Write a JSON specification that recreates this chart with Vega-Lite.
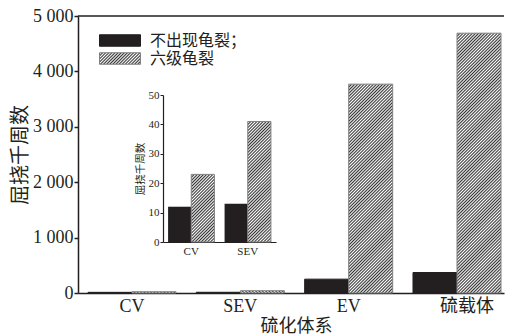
{
  "$schema": "https://vega.github.io/schema/vega-lite/v6.json",
  "width": 426,
  "height": 277,
  "autosize": {"type": "none"},
  "padding": {"left": 78, "top": 16, "right": 2, "bottom": 43},
  "background": "white",
  "config": {
    "view": {"stroke": null},
    "font": "'Liberation Serif', 'Noto Sans CJK SC'",
    "axis": {
      "grid": false,
      "labelFont": "'Liberation Serif', 'Noto Sans CJK SC'",
      "titleFont": "'Liberation Serif', 'Noto Sans CJK SC'",
      "titleFontWeight": "normal",
      "labelColor": "#231f20",
      "titleColor": "#231f20",
      "domainColor": "#231f20",
      "tickColor": "#231f20"
    }
  },
  "params": [
    {
      "name": "hatch",
      "value": [
        {"offset":0,"color":"#333"},{"offset":0.005,"color":"#fff"},{"offset":0.01,"color":"#333"},{"offset":0.015,"color":"#fff"},{"offset":0.02,"color":"#333"},{"offset":0.025,"color":"#fff"},{"offset":0.03,"color":"#333"},{"offset":0.035,"color":"#fff"},{"offset":0.04,"color":"#333"},{"offset":0.045,"color":"#fff"},
        {"offset":0.05,"color":"#333"},{"offset":0.055,"color":"#fff"},{"offset":0.06,"color":"#333"},{"offset":0.065,"color":"#fff"},{"offset":0.07,"color":"#333"},{"offset":0.075,"color":"#fff"},{"offset":0.08,"color":"#333"},{"offset":0.085,"color":"#fff"},{"offset":0.09,"color":"#333"},{"offset":0.095,"color":"#fff"},
        {"offset":0.1,"color":"#333"},{"offset":0.105,"color":"#fff"},{"offset":0.11,"color":"#333"},{"offset":0.115,"color":"#fff"},{"offset":0.12,"color":"#333"},{"offset":0.125,"color":"#fff"},{"offset":0.13,"color":"#333"},{"offset":0.135,"color":"#fff"},{"offset":0.14,"color":"#333"},{"offset":0.145,"color":"#fff"},
        {"offset":0.15,"color":"#333"},{"offset":0.155,"color":"#fff"},{"offset":0.16,"color":"#333"},{"offset":0.165,"color":"#fff"},{"offset":0.17,"color":"#333"},{"offset":0.175,"color":"#fff"},{"offset":0.18,"color":"#333"},{"offset":0.185,"color":"#fff"},{"offset":0.19,"color":"#333"},{"offset":0.195,"color":"#fff"},
        {"offset":0.2,"color":"#333"},{"offset":0.205,"color":"#fff"},{"offset":0.21,"color":"#333"},{"offset":0.215,"color":"#fff"},{"offset":0.22,"color":"#333"},{"offset":0.225,"color":"#fff"},{"offset":0.23,"color":"#333"},{"offset":0.235,"color":"#fff"},{"offset":0.24,"color":"#333"},{"offset":0.245,"color":"#fff"},
        {"offset":0.25,"color":"#333"},{"offset":0.255,"color":"#fff"},{"offset":0.26,"color":"#333"},{"offset":0.265,"color":"#fff"},{"offset":0.27,"color":"#333"},{"offset":0.275,"color":"#fff"},{"offset":0.28,"color":"#333"},{"offset":0.285,"color":"#fff"},{"offset":0.29,"color":"#333"},{"offset":0.295,"color":"#fff"},
        {"offset":0.3,"color":"#333"},{"offset":0.305,"color":"#fff"},{"offset":0.31,"color":"#333"},{"offset":0.315,"color":"#fff"},{"offset":0.32,"color":"#333"},{"offset":0.325,"color":"#fff"},{"offset":0.33,"color":"#333"},{"offset":0.335,"color":"#fff"},{"offset":0.34,"color":"#333"},{"offset":0.345,"color":"#fff"},
        {"offset":0.35,"color":"#333"},{"offset":0.355,"color":"#fff"},{"offset":0.36,"color":"#333"},{"offset":0.365,"color":"#fff"},{"offset":0.37,"color":"#333"},{"offset":0.375,"color":"#fff"},{"offset":0.38,"color":"#333"},{"offset":0.385,"color":"#fff"},{"offset":0.39,"color":"#333"},{"offset":0.395,"color":"#fff"},
        {"offset":0.4,"color":"#333"},{"offset":0.405,"color":"#fff"},{"offset":0.41,"color":"#333"},{"offset":0.415,"color":"#fff"},{"offset":0.42,"color":"#333"},{"offset":0.425,"color":"#fff"},{"offset":0.43,"color":"#333"},{"offset":0.435,"color":"#fff"},{"offset":0.44,"color":"#333"},{"offset":0.445,"color":"#fff"},
        {"offset":0.45,"color":"#333"},{"offset":0.455,"color":"#fff"},{"offset":0.46,"color":"#333"},{"offset":0.465,"color":"#fff"},{"offset":0.47,"color":"#333"},{"offset":0.475,"color":"#fff"},{"offset":0.48,"color":"#333"},{"offset":0.485,"color":"#fff"},{"offset":0.49,"color":"#333"},{"offset":0.495,"color":"#fff"},
        {"offset":0.5,"color":"#333"},{"offset":0.505,"color":"#fff"},{"offset":0.51,"color":"#333"},{"offset":0.515,"color":"#fff"},{"offset":0.52,"color":"#333"},{"offset":0.525,"color":"#fff"},{"offset":0.53,"color":"#333"},{"offset":0.535,"color":"#fff"},{"offset":0.54,"color":"#333"},{"offset":0.545,"color":"#fff"},
        {"offset":0.55,"color":"#333"},{"offset":0.555,"color":"#fff"},{"offset":0.56,"color":"#333"},{"offset":0.565,"color":"#fff"},{"offset":0.57,"color":"#333"},{"offset":0.575,"color":"#fff"},{"offset":0.58,"color":"#333"},{"offset":0.585,"color":"#fff"},{"offset":0.59,"color":"#333"},{"offset":0.595,"color":"#fff"},
        {"offset":0.6,"color":"#333"},{"offset":0.605,"color":"#fff"},{"offset":0.61,"color":"#333"},{"offset":0.615,"color":"#fff"},{"offset":0.62,"color":"#333"},{"offset":0.625,"color":"#fff"},{"offset":0.63,"color":"#333"},{"offset":0.635,"color":"#fff"},{"offset":0.64,"color":"#333"},{"offset":0.645,"color":"#fff"},
        {"offset":0.65,"color":"#333"},{"offset":0.655,"color":"#fff"},{"offset":0.66,"color":"#333"},{"offset":0.665,"color":"#fff"},{"offset":0.67,"color":"#333"},{"offset":0.675,"color":"#fff"},{"offset":0.68,"color":"#333"},{"offset":0.685,"color":"#fff"},{"offset":0.69,"color":"#333"},{"offset":0.695,"color":"#fff"},
        {"offset":0.7,"color":"#333"},{"offset":0.705,"color":"#fff"},{"offset":0.71,"color":"#333"},{"offset":0.715,"color":"#fff"},{"offset":0.72,"color":"#333"},{"offset":0.725,"color":"#fff"},{"offset":0.73,"color":"#333"},{"offset":0.735,"color":"#fff"},{"offset":0.74,"color":"#333"},{"offset":0.745,"color":"#fff"},
        {"offset":0.75,"color":"#333"},{"offset":0.755,"color":"#fff"},{"offset":0.76,"color":"#333"},{"offset":0.765,"color":"#fff"},{"offset":0.77,"color":"#333"},{"offset":0.775,"color":"#fff"},{"offset":0.78,"color":"#333"},{"offset":0.785,"color":"#fff"},{"offset":0.79,"color":"#333"},{"offset":0.795,"color":"#fff"},
        {"offset":0.8,"color":"#333"},{"offset":0.805,"color":"#fff"},{"offset":0.81,"color":"#333"},{"offset":0.815,"color":"#fff"},{"offset":0.82,"color":"#333"},{"offset":0.825,"color":"#fff"},{"offset":0.83,"color":"#333"},{"offset":0.835,"color":"#fff"},{"offset":0.84,"color":"#333"},{"offset":0.845,"color":"#fff"},
        {"offset":0.85,"color":"#333"},{"offset":0.855,"color":"#fff"},{"offset":0.86,"color":"#333"},{"offset":0.865,"color":"#fff"},{"offset":0.87,"color":"#333"},{"offset":0.875,"color":"#fff"},{"offset":0.88,"color":"#333"},{"offset":0.885,"color":"#fff"},{"offset":0.89,"color":"#333"},{"offset":0.895,"color":"#fff"},
        {"offset":0.9,"color":"#333"},{"offset":0.905,"color":"#fff"},{"offset":0.91,"color":"#333"},{"offset":0.915,"color":"#fff"},{"offset":0.92,"color":"#333"},{"offset":0.925,"color":"#fff"},{"offset":0.93,"color":"#333"},{"offset":0.935,"color":"#fff"},{"offset":0.94,"color":"#333"},{"offset":0.945,"color":"#fff"},
        {"offset":0.95,"color":"#333"},{"offset":0.955,"color":"#fff"},{"offset":0.96,"color":"#333"},{"offset":0.965,"color":"#fff"},{"offset":0.97,"color":"#333"},{"offset":0.975,"color":"#fff"},{"offset":0.98,"color":"#333"},{"offset":0.985,"color":"#fff"},{"offset":0.99,"color":"#333"},{"offset":0.995,"color":"#fff"},
        {"offset":1,"color":"#333"}
      ]
    }
  ],
  "data": {
    "values": [
      {"system": "CV", "type": "不出现龟裂", "value": 12},
      {"system": "CV", "type": "六级龟裂", "value": 23},
      {"system": "SEV", "type": "不出现龟裂", "value": 13},
      {"system": "SEV", "type": "六级龟裂", "value": 41},
      {"system": "EV", "type": "不出现龟裂", "value": 250},
      {"system": "EV", "type": "六级龟裂", "value": 3770},
      {"system": "硫载体", "type": "不出现龟裂", "value": 370},
      {"system": "硫载体", "type": "六级龟裂", "value": 4690}
    ]
  },
  "layer": [
    {
      "layer": [
        {
          "mark": {"type": "bar", "strokeWidth": 1},
          "encoding": {
            "x": {
              "field": "system",
              "type": "nominal",
              "sort": ["CV", "SEV", "EV", "硫载体"],
              "scale": {"paddingInner": 0.1875, "paddingOuter": 0.06, "align": 0.77},
              "axis": {
                "title": "硫化体系",
                "titleX": 218,
                "labelAngle": 0,
                "labelFontSize": 18,
                "titleFontSize": 18,
                "ticks": false,
                "labelPadding": 4,
                "titlePadding": 2,
                "domainWidth": 1.5,
                "labelOffset": {"condition": {"test": "datum.value === '硫载体'", "value": 10}, "value": 0}
              }
            },
            "xOffset": {"field": "type", "sort": ["不出现龟裂", "六级龟裂"]},
            "y": {
              "field": "value",
              "type": "quantitative",
              "scale": {"domain": [0, 5000], "nice": false},
              "axis": {
                "title": "屈挠千周数",
                "values": [0, 1000, 2000, 3000, 4000, 5000],
                "labelExpr": "replace(format(datum.value, ','), ',', ' ')",
                "labelFontSize": 18,
                "titleFontSize": 20,
                "tickSize": 4,
                "tickWidth": 1.5,
                "labelPadding": 1,
                "titlePadding": 2,
                "domainWidth": 1.5
              }
            },
            "fill": {
              "field": "type",
              "scale": {
                "domain": ["不出现龟裂", "六级龟裂"],
                "range": ["#231f20", {"expr": "{gradient: 'linear', x1: 0, y1: 0, x2: 7.0113, y2: 1.9632, stops: hatch}"}]
              },
              "condition": [
                {"test": "datum.system === '硫载体' && datum.type === '六级龟裂'", "value": {"expr": "{gradient: 'linear', x1: 0, y1: 0, x2: 0.1959, y2: 1.16, stops: hatch}"}},
                {"test": "datum.system === 'EV' && datum.type === '六级龟裂'", "value": {"expr": "{gradient: 'linear', x1: 0, y1: 0, x2: 0.2986, y2: 1.4215, stops: hatch}"}}
              ],
              "legend": {
                "orient": "none",
                "legendX": 21,
                "legendY": 15.5,
                "title": null,
                "padding": 0,
                "symbolType": "M-1,-0.28H1V0.28H-1Z",
                "symbolSize": 1681,
                "symbolStrokeWidth": 1,
                "labelFont": "'Liberation Serif', 'Noto Sans CJK SC'",
                "labelFontSize": 16,
                "labelColor": "#231f20",
                "labelOffset": 9,
                "clipHeight": 18,
                "rowPadding": 0,
                "labelExpr": "datum.label === '不出现龟裂' ? '不出现龟裂；' : datum.label"
              }
            },
            "stroke": {
              "field": "type",
              "scale": {"domain": ["不出现龟裂", "六级龟裂"], "range": ["#231f20", "#808080"]},
              "legend": {
                "orient": "none",
                "legendX": 21,
                "legendY": 15.5,
                "title": null,
                "padding": 0,
                "symbolType": "M-1,-0.28H1V0.28H-1Z",
                "symbolSize": 1681,
                "symbolStrokeWidth": 1,
                "labelFont": "'Liberation Serif', 'Noto Sans CJK SC'",
                "labelFontSize": 16,
                "labelColor": "#231f20",
                "labelOffset": 9,
                "clipHeight": 18,
                "rowPadding": 0,
                "labelExpr": "datum.label === '不出现龟裂' ? '不出现龟裂；' : datum.label"
              }
            }
          }
        },
        {
          "data": {"values": [{}]},
          "mark": {"type": "rule", "color": "#231f20", "strokeWidth": 1.5},
          "encoding": {"y": {"datum": 5000}}
        }
      ]
    },
    {
      "transform": [{"filter": {"field": "system", "oneOf": ["CV", "SEV"]}}],
      "mark": {"type": "bar", "strokeWidth": 1},
      "encoding": {
        "x": {
          "field": "system",
          "type": "nominal",
          "sort": ["CV", "SEV"],
          "scale": {"range": [85, 198], "paddingInner": 0.18, "paddingOuter": 0.09},
          "axis": {
            "title": null,
            "orient": "bottom",
            "offset": -51,
            "labelAngle": 0,
            "labelFontSize": 11,
            "ticks": false,
            "labelPadding": 3,
            "domainWidth": 1.2
          }
        },
        "xOffset": {"field": "type", "sort": ["不出现龟裂", "六级龟裂"]},
        "y": {
          "field": "value",
          "type": "quantitative",
          "scale": {"domain": [0, 50], "nice": false, "range": [226, 79]},
          "axis": {
            "title": "屈挠千周数",
            "orient": "left",
            "offset": -85,
            "values": [0, 10, 20, 30, 40, 50],
            "labelFontSize": 11,
            "titleFontSize": 10.5,
            "tickSize": 3,
            "labelPadding": 1,
            "titlePadding": 3,
            "domainWidth": 1.2
          }
        },
        "fill": {
          "condition": [
            {"test": "datum.type === '不出现龟裂'", "value": "#231f20"},
            {"test": "datum.system === 'CV'", "value": {"expr": "{gradient: 'linear', x1: 0, y1: 0, x2: 1.4056, y2: 4.1029, stops: hatch}"}}
          ],
          "value": {"expr": "{gradient: 'linear', x1: 0, y1: 0, x2: 0.4766, y2: 2.4801, stops: hatch}"}
        },
        "stroke": {
          "condition": {"test": "datum.type === '六级龟裂'", "value": "#808080"},
          "value": null
        }
      }
    }
  ],
  "resolve": {
    "scale": {"x": "independent", "y": "independent", "xOffset": "independent", "fill": "independent", "stroke": "independent"},
    "axis": {"x": "independent", "y": "independent"},
    "legend": {"fill": "independent", "stroke": "independent"}
  }
}
